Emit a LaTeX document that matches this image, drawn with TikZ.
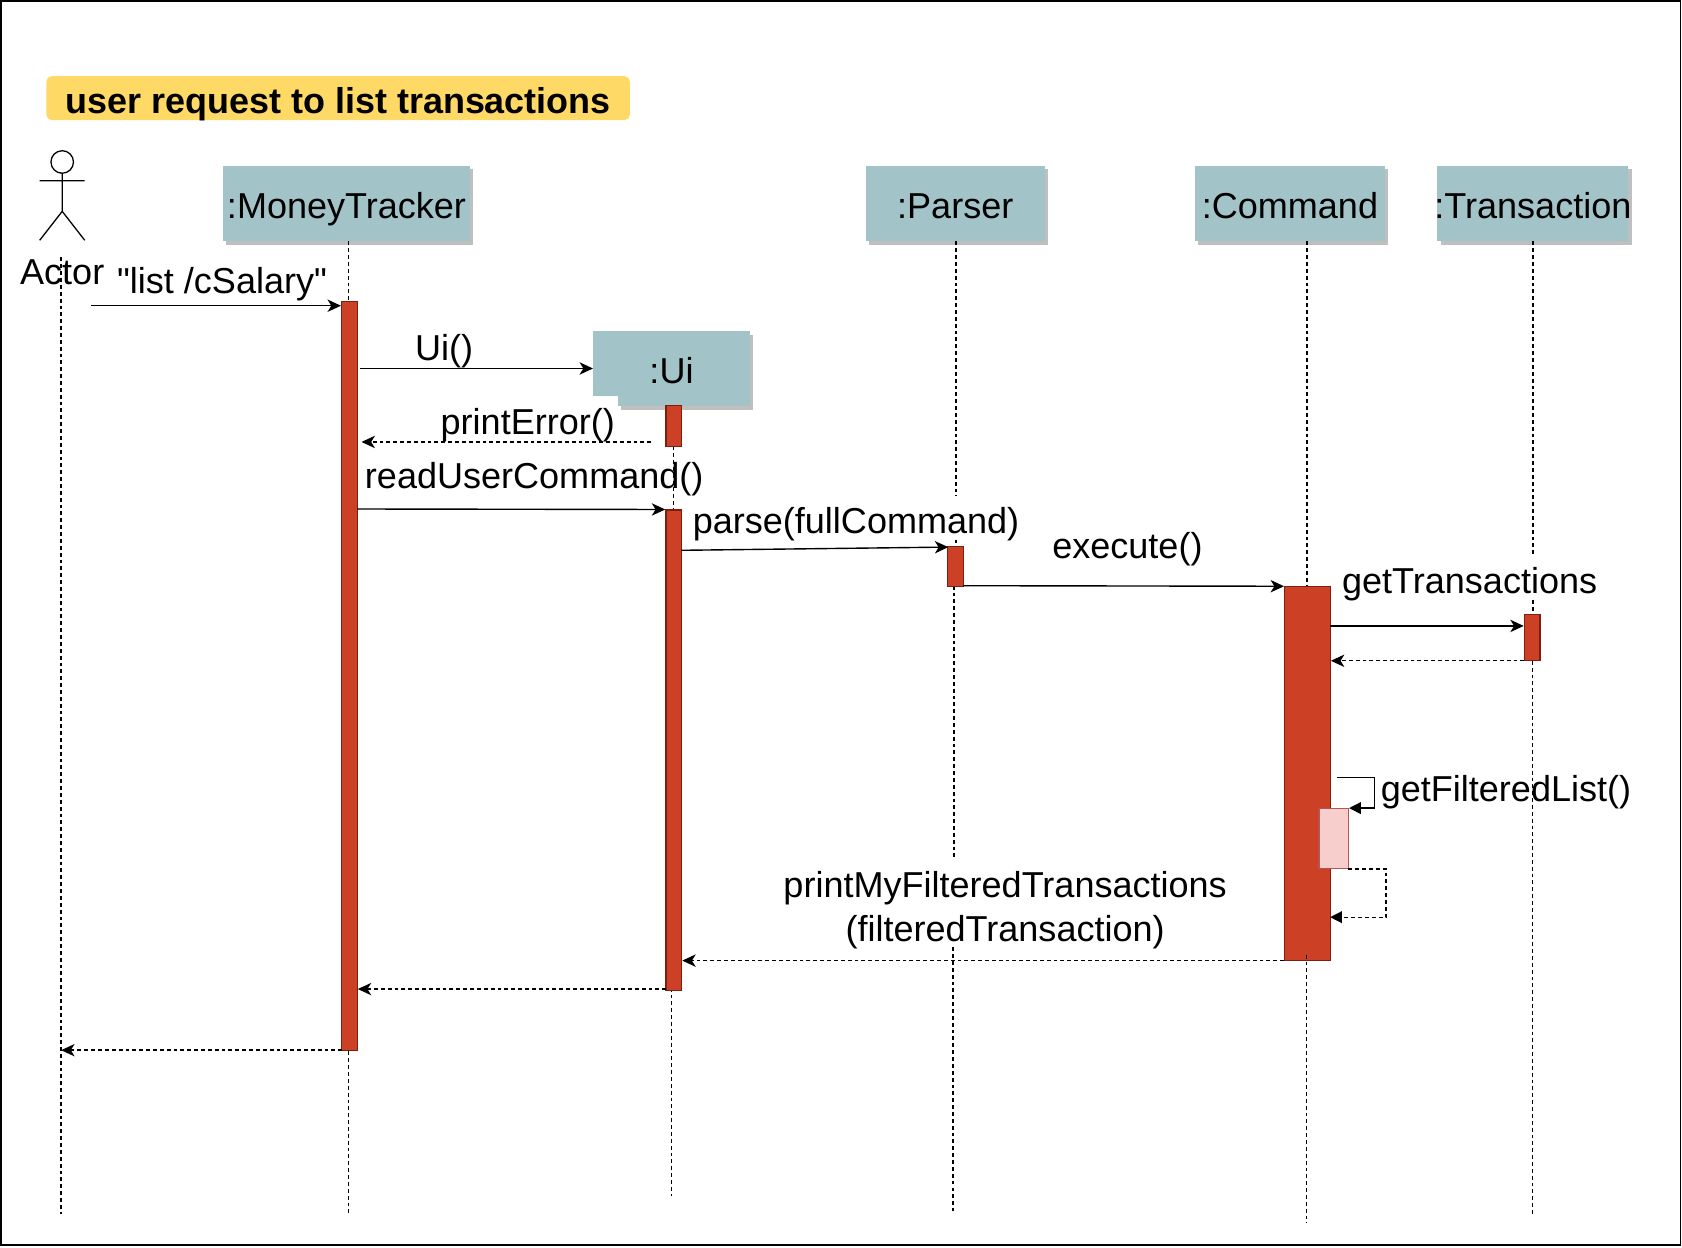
\documentclass[tikz,border=0pt]{standalone}
\usepackage{fontspec}
\usepackage{tikz}
\usetikzlibrary{arrows.meta}
\setmainfont{Liberation Sans}[Ligatures=TeXOff]

\definecolor{boxfill}{HTML}{A2C4C9}
\definecolor{boxshade}{HTML}{BFBFBF}
\definecolor{barfill}{HTML}{CC4125}
\definecolor{barline}{HTML}{7F1D0F}
\definecolor{notefill}{HTML}{F8CECC}
\definecolor{noteline}{HTML}{B85450}
\definecolor{titlefill}{HTML}{FFD966}

\tikzset{
    txt/.style = {font=\fontsize{33.6}{41}\selectfont, inner sep=0pt, align=center},
    lifebox/.style = {txt, fill=boxfill, minimum height=70pt, text height=30pt, text depth=2pt},
    lifeline/.style = {line width=1.35pt, dash pattern=on 3.6pt off 2.8pt},
    bar/.style = {draw=barline, line width=1.2pt, fill=barfill, minimum width=14.5pt},
    msg/.style = {line width=1.3pt, -{Stealth[length=12.5pt,width=11.5pt,inset=3.5pt]}},
    ret/.style = {msg, dash pattern=on 3.6pt off 2.8pt},
    selfmsg/.style = {line width=1.2pt, -{Triangle[length=11pt,width=11pt]}}
}

\begin{document}
\begin{tikzpicture}[x=1pt,y=-1pt]
    \useasboundingbox (0,0) rectangle (1568,1162.5);
    \draw[line width=1.6pt] (0.8,0.8) rectangle (1566.5,1160.5);

    % title
    \node[anchor=west, fill=titlefill, rounded corners=5pt, minimum width=544pt, minimum height=41pt, inner sep=0pt] (title) at (43,91.5) {};
    \node[txt, anchor=west, font=\fontsize{33.5}{41}\selectfont\bfseries] (titletext) at (61,97.5) {user request to list transactions};

    % actor
    \draw[line width=1.2pt] (58,151) circle (10.5);
    \draw[line width=1.2pt] (58,161.5) -- (58,197) (37,168.5) -- (79,168.5) (37,224) -- (58,197) -- (79,224);
    \node[txt] (actor) at (58,254) {Actor};

    % lifeline heads
    \fill[boxshade] (211,158) rectangle (441,228);
    \fill[boxshade] (810,158) rectangle (977,228);
    \fill[boxshade] (1117,158) rectangle (1294,228);
    \fill[boxshade] (1343,158) rectangle (1521,228);
    \node[lifebox, minimum width=230pt] (tracker) at (323,190) {:MoneyTracker};
    \node[lifebox, minimum width=167pt] (parser) at (890.5,190) {:Parser};
    \node[lifebox, minimum width=177pt] (command) at (1202.5,190) {:Command};
    \node[lifebox, minimum width=178pt] (transaction) at (1429,190) {\makebox[0pt]{:Transaction}};

    % ui head
    \fill[boxshade] (579,312) rectangle (702,382);
    \fill[boxfill] (576,308.5) rectangle (699,378.5);
    \fill[boxfill] (553,308.5) rectangle (699,369.5);
    \node[txt, minimum width=146pt, minimum height=70pt, text height=28pt, text depth=0pt] (ui) at (626,343.5) {:Ui};

    % lifelines
    \draw[lifeline] (57,240) -- (57,1132);
    \draw[lifeline] (325,225) -- (325,1133);
    \draw[lifeline] (628,416) -- (628,475);
    \draw[lifeline] (626,908) -- (626,1115);
    \draw[lifeline] (891,225) -- (891,462);
    \draw[lifeline] (891,503) -- (891,546);
    \draw[lifeline] (889.5,546) -- (889.5,801);
    \draw[lifeline] (888.5,883) -- (888.5,1129);
    \draw[lifeline] (1218.5,225) -- (1218.5,546);
    \draw[lifeline] (1218,890) -- (1218,1140);
    \draw[lifeline] (1429,225) -- (1429,517);
    \draw[lifeline] (1429,559.5) -- (1429,572);
    \draw[lifeline] (1428.5,616) -- (1428.5,1132);

    % activation bars
    \node[bar, minimum height=698pt] (mtBar) at (325.7,630) {};
    \node[bar, minimum height=38pt] (uiBarA) at (628,397) {};
    \node[bar, minimum height=447.5pt] (uiBarB) at (628,699.3) {};
    \node[bar, minimum height=37pt] (parserBar) at (890.7,528) {};
    \node[bar, minimum width=43pt, minimum height=349pt] (cmdBar) at (1218.6,721) {};
    \node[bar, minimum height=43.5pt] (txBar) at (1428.3,594.3) {};
    \node[draw=noteline, line width=1.2pt, fill=notefill, minimum width=27.5pt, minimum height=56pt] (filterBar) at (1243.3,781.9) {};
    \draw[lifeline] (1218,890) -- (1218,895);

    % messages
    \coordinate (listFrom) at (85,285);
    \coordinate (uiFrom) at (336,343.5);
    \coordinate (errFrom) at (607,412);
    \coordinate (errTo) at (337,412);
    \coordinate (readFrom) at (333,474.5);
    \coordinate (parseFrom) at (635,513);
    \coordinate (parseTo) at (884,510);
    \coordinate (execFrom) at (898,546);
    \coordinate (execTo) at (1197,546.5);
    \coordinate (getFrom) at (1240,583.5);
    \coordinate (backFrom) at (1421,616);
    \coordinate (selfFrom) at (1246,725);
    \coordinate (selfBack) at (1257,810);
    \coordinate (printFrom) at (1197,895.5);
    \coordinate (printTo) at (636,895.5);
    \coordinate (uiBack) at (621,922);
    \coordinate (mtBack) at (319,979);

    \draw[msg] (listFrom) -- (listFrom -| mtBar.west);
    \draw[msg] (uiFrom) -- (ui.west);
    \draw[ret] (errFrom) -- (errTo);
    \draw[msg] (readFrom) -- (uiBarB.north west);
    \draw[msg] (parseFrom) -- (parseTo);
    \draw[msg] (execFrom) -- (execTo);
    \draw[msg] (getFrom) -- (getFrom -| txBar.west);
    \draw[ret] (backFrom) -- (backFrom -| cmdBar.east);
    \draw[selfmsg] (selfFrom) -- ++(35,0) |- (filterBar.north east);
    \draw[selfmsg, dash pattern=on 3.6pt off 2.8pt] (selfBack) -- ++(35,0) -- ++(0,45) -- (1240,855);
    \draw[ret] (printFrom) -- (printTo);
    \draw[ret] (uiBack) -- (uiBack -| mtBar.east);
    \draw[ret] (mtBack) -- (mtBack -| 57,0);

    % labels
    \node[txt] (listLabel) at (207,265) {"list /cSalary"};
    \node[txt] (uiLabel) at (414,327.5) {Ui()};
    \node[txt] (errLabel) at (492,396.5) {printError()};
    \node[txt] (readLabel) at (498,446.5) {readUserCommand()};
    \node[txt] (parseLabel) at (798,488.5) {parse(fullCommand)};
    \node[txt] (execLabel) at (1051,511.5) {execute()};
    \node[txt] (getLabel) at (1370,544.5) {getTransactions};
    \node[txt, anchor=west] (filterLabel) at (1287,738.5) {getFilteredList()};
    \node[txt] (printLabel) at (937,848.5) {printMyFilteredTransactions\\(filteredTransaction)};
\end{tikzpicture}
\end{document}
